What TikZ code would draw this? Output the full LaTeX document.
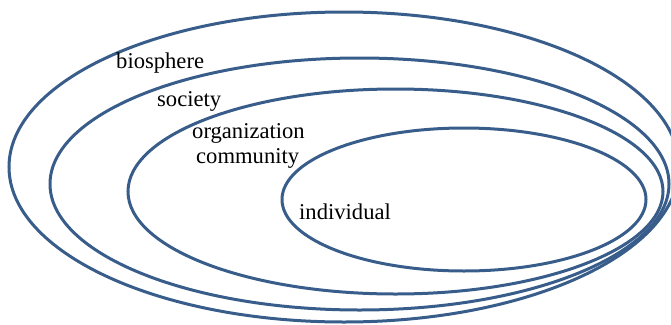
\documentclass[tikz,border=0pt]{standalone}
\usepackage{fontspec}
\setmainfont{Liberation Serif}
\definecolor{ringblue}{HTML}{385D8A}
\begin{document}
\begin{tikzpicture}[x=1pt,y=-1pt,
  ring/.style={draw=ringblue,line width=3pt},
  lbl/.style={anchor=base west,inner sep=0pt,font=\fontsize{22.6}{26}\selectfont}]
\useasboundingbox (0,0) rectangle (671,324);
\clip (0,0) rectangle (671,324);
\draw[ring] (344,167) ellipse [x radius=335,y radius=155];
\draw[ring] (359.5,184) ellipse [x radius=309.5,y radius=126];
\draw[ring] (395.5,191.5) ellipse [x radius=267.5,y radius=102.5];
\draw[ring] (464,199.5) ellipse [x radius=182,y radius=71.5];
\node[lbl] (bio) at (116,68) {biosphere};
\node[lbl] (soc) at (157,106.5) {society};
\node[lbl] (org) at (192,138) {organization};
\node[lbl] (com) at (196,163) {community};
\node[lbl] (ind) at (299,219) {individual};
\end{tikzpicture}
\end{document}
